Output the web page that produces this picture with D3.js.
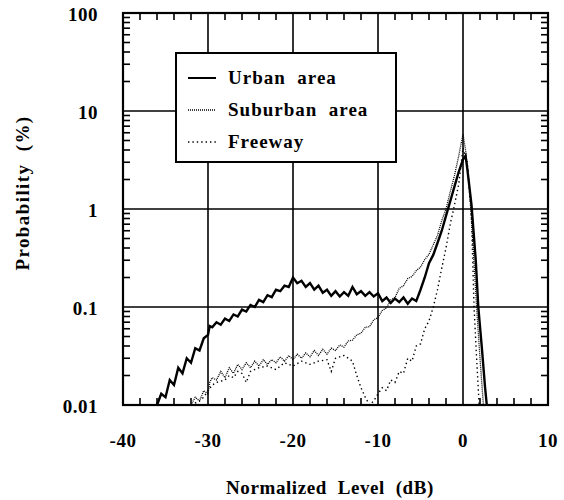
<!DOCTYPE html>
<html>
<head>
<meta charset="utf-8">
<script src="https://cdn.jsdelivr.net/npm/d3@7"></script>
<style>
  body { margin: 0; background: #fff; }
  svg text { font-family: "Liberation Serif", "Times New Roman", serif; font-weight: bold; fill: #000; white-space: pre; }
</style>
</head>
<body>
<svg id="chart" width="564" height="500"></svg>
<script>
(function () {
    'use strict';

    // ---- data (level in dB, probability in %) ----
    const urbanX = [-36, -35.5, -35, -34.5, -34, -33.5, -33, -32.5, -32, -31.5, -31, -30.5, -30, -29.8, -29.5, -29, -28.5, -28, -27.5, -27, -26.5, -26, -25.5, -25, -24.5, -24, -23.5, -23, -22.5, -22, -21.5, -21, -20.5, -20, -19.5, -19, -18.5, -18, -17.5, -17, -16.5, -16, -15.5, -15, -14.5, -14, -13.5, -13, -12.5, -12, -11.5, -11, -10.5, -10, -9.5, -9, -8.5, -8, -7.5, -7, -6.5, -6, -5.5, -5, -4.5, -4, -3.5, -3, -2.5, -2, -1.5, -1, -0.5, 0, 0.3, 0.5, 1, 1.5, 1.8, 2.2, 2.6, 2.8];
    const urbanY = [0.010, 0.013, 0.012, 0.018, 0.016, 0.024, 0.021, 0.030, 0.027, 0.038, 0.036, 0.048, 0.052, 0.064, 0.062, 0.070, 0.066, 0.076, 0.072, 0.084, 0.080, 0.094, 0.090, 0.105, 0.100, 0.118, 0.112, 0.132, 0.126, 0.150, 0.145, 0.165, 0.160, 0.200, 0.175, 0.185, 0.160, 0.175, 0.150, 0.165, 0.140, 0.150, 0.130, 0.145, 0.128, 0.142, 0.130, 0.160, 0.135, 0.145, 0.130, 0.142, 0.128, 0.138, 0.115, 0.125, 0.110, 0.122, 0.112, 0.125, 0.108, 0.122, 0.115, 0.150, 0.200, 0.280, 0.340, 0.450, 0.600, 0.850, 1.20, 1.70, 2.40, 3.20, 3.50, 2.60, 1.10, 0.30, 0.10, 0.040, 0.015, 0.010];

    const suburbanX = [-32, -31.5, -31, -30.5, -30, -29.8, -29.5, -29, -28.5, -28, -27.5, -27, -26.5, -26, -25.5, -25, -24.5, -24, -23.5, -23, -22.5, -22, -21.5, -21, -20.5, -20, -19.5, -19, -18.5, -18, -17.5, -17, -16.5, -16, -15.5, -15, -14.5, -14, -13.5, -13, -12.5, -12, -11.5, -11, -10.5, -10, -9.5, -9, -8.5, -8, -7.5, -7, -6.5, -6, -5.5, -5, -4.5, -4, -3.5, -3, -2.5, -2, -1.5, -1, -0.5, 0, 0.3, 0.8, 1.2, 1.6, 2.0, 2.4];
    const suburbanY = [0.010, 0.012, 0.011, 0.014, 0.013, 0.017, 0.019, 0.018, 0.022, 0.019, 0.024, 0.021, 0.026, 0.023, 0.027, 0.024, 0.028, 0.025, 0.029, 0.026, 0.029, 0.027, 0.031, 0.028, 0.032, 0.029, 0.033, 0.030, 0.034, 0.031, 0.036, 0.032, 0.037, 0.033, 0.038, 0.036, 0.041, 0.039, 0.045, 0.046, 0.052, 0.054, 0.062, 0.063, 0.074, 0.078, 0.092, 0.098, 0.118, 0.125, 0.155, 0.165, 0.195, 0.205, 0.235, 0.255, 0.305, 0.345, 0.430, 0.540, 0.760, 1.00, 1.50, 2.20, 3.50, 5.80, 4.00, 1.50, 0.40, 0.10, 0.030, 0.010];

    const freewayX = [-32, -31, -30.5, -30, -29.5, -29, -28, -27.5, -27, -26.5, -26, -25.5, -25, -24, -23, -22, -21, -20, -19, -18, -17, -16, -15.5, -15, -14, -13.5, -13, -12.5, -12, -11.5, -11, -10.5, -10, -9.5, -9, -8.5, -8, -7.5, -7, -6.5, -6, -5.5, -5, -4.5, -4, -3.5, -3, -2.5, -2, -1.5, -1, -0.5, 0, 0.5, 1.0, 1.3, 1.6, 1.9];
    const freewayY = [0.010, 0.011, 0.012, 0.014, 0.016, 0.017, 0.018, 0.020, 0.019, 0.022, 0.021, 0.017, 0.022, 0.024, 0.025, 0.023, 0.027, 0.025, 0.028, 0.026, 0.028, 0.029, 0.022, 0.030, 0.032, 0.030, 0.028, 0.020, 0.015, 0.012, 0.010, 0.011, 0.013, 0.015, 0.014, 0.018, 0.017, 0.022, 0.021, 0.030, 0.028, 0.040, 0.042, 0.060, 0.072, 0.100, 0.150, 0.250, 0.400, 0.700, 1.10, 1.80, 4.20, 3.00, 0.80, 0.10, 0.030, 0.010];

    const seriesNames = ['Urban  area', 'Suburban  area', 'Freeway'];
    const xTicks = [-40, -30, -20, -10, 0, 10];
    const yTicks = [0.01, 0.1, 1, 10, 100];
    const yTickLabels = ['0.01', '0.1', '1', '10', '100'];

    // ---- layout ----
    const width = 564;
    const height = 500;
    const plot = { left: 123, right: 548, top: 13, bottom: 405 };

    const x = d3.scaleLinear().domain([-40, 10]).range([plot.left, plot.right]);
    const y = d3.scaleLog().domain([0.01, 100]).range([plot.bottom, plot.top]);

    const svg = d3.select('#chart').attr('viewBox', [0, 0, width, height]);

    const zip = (xs, ys) => xs.map((v, i) => [v, ys[i]]);
    const series = [
        { name: seriesNames[0], data: zip(urbanX, urbanY), width: 2.4, dash: null },
        { name: seriesNames[1], data: zip(suburbanX, suburbanY), width: 1.3, dash: '1,1' },
        { name: seriesNames[2], data: zip(freewayX, freewayY), width: 1.4, dash: '1.4,3' }
    ];

    // ---- grid ----
    const grid = svg.append('g').attr('stroke', '#000').attr('stroke-width', 1.6);
    grid.selectAll('line.vx')
        .data(xTicks.slice(1, -1))
        .join('line')
        .attr('x1', d => x(d)).attr('x2', d => x(d))
        .attr('y1', plot.top).attr('y2', plot.bottom);
    grid.selectAll('line.hy')
        .data(yTicks.slice(1, -1))
        .join('line')
        .attr('class', 'hy')
        .attr('x1', plot.left).attr('x2', plot.right)
        .attr('y1', d => y(d)).attr('y2', d => y(d));

    // minor ticks, pointing inwards on all four sides
    const tickLen = 7;
    const minorX = d3.range(-38, 10, 2).filter(v => v % 10 !== 0);
    const minorY = [];
    for (let e = -2; e < 2; e++) {
        for (let m = 2; m <= 9; m++) minorY.push(m * Math.pow(10, e));
    }
    const ticks = svg.append('g').attr('stroke', '#000').attr('stroke-width', 1.6);
    minorX.forEach(v => {
        ticks.append('line').attr('x1', x(v)).attr('x2', x(v)).attr('y1', plot.bottom).attr('y2', plot.bottom - tickLen);
        ticks.append('line').attr('x1', x(v)).attr('x2', x(v)).attr('y1', plot.top).attr('y2', plot.top + tickLen);
    });
    minorY.forEach(v => {
        ticks.append('line').attr('x1', plot.left).attr('x2', plot.left + tickLen).attr('y1', y(v)).attr('y2', y(v));
        ticks.append('line').attr('x1', plot.right).attr('x2', plot.right - tickLen).attr('y1', y(v)).attr('y2', y(v));
    });

    // ---- curves ----
    const line = d3.line().x(d => x(d[0])).y(d => y(d[1]));
    const curves = svg.append('g').attr('fill', 'none').attr('stroke', '#000');
    series.slice().reverse().forEach(s => {
        curves.append('path')
            .attr('d', line(s.data))
            .attr('stroke-width', s.width)
            .attr('stroke-dasharray', s.dash);
    });

    // frame
    svg.append('rect')
        .attr('x', plot.left).attr('y', plot.top)
        .attr('width', plot.right - plot.left).attr('height', plot.bottom - plot.top)
        .attr('fill', 'none').attr('stroke', '#000').attr('stroke-width', 2.2);

    // ---- tick labels ----
    svg.append('g').selectAll('text')
        .data(xTicks)
        .join('text')
        .attr('x', d => x(d))
        .attr('y', 447)
        .attr('text-anchor', 'middle')
        .attr('font-size', 19)
        .attr('letter-spacing', 0.5)
        .text(d => d);

    svg.append('g').selectAll('text')
        .data(yTicks)
        .join('text')
        .attr('x', 98)
        .attr('y', d => y(d) + 8)
        .attr('text-anchor', 'end')
        .attr('font-size', 19)
        .attr('letter-spacing', 0.5)
        .text((d, i) => yTickLabels[i]);

    // ---- axis titles ----
    svg.append('text')
        .attr('x', 330).attr('y', 494)
        .attr('text-anchor', 'middle')
        .attr('font-size', 19)
        .attr('letter-spacing', 0.6)
        .text('Normalized  Level  (dB)');

    svg.append('text')
        .attr('transform', 'translate(29,193) rotate(-90)')
        .attr('text-anchor', 'middle')
        .attr('font-size', 19)
        .attr('letter-spacing', 1.4)
        .text('Probability  (%)');

    // ---- legend ----
    const legend = svg.append('g');
    legend.append('rect')
        .attr('x', 176).attr('y', 53).attr('width', 220).attr('height', 109)
        .attr('fill', '#fff').attr('stroke', '#000').attr('stroke-width', 2);
    series.forEach((s, i) => {
        const cy = 78 + i * 32;
        legend.append('line')
            .attr('x1', 188).attr('x2', 216).attr('y1', cy).attr('y2', cy)
            .attr('stroke', '#000').attr('stroke-width', i === 0 ? 2 : s.width)
            .attr('stroke-dasharray', s.dash);
        legend.append('text')
            .attr('x', 228).attr('y', cy + 6)
            .attr('font-size', 19)
            .attr('letter-spacing', 1)
            .text(s.name);
    });
})();
</script>
</body>
</html>
